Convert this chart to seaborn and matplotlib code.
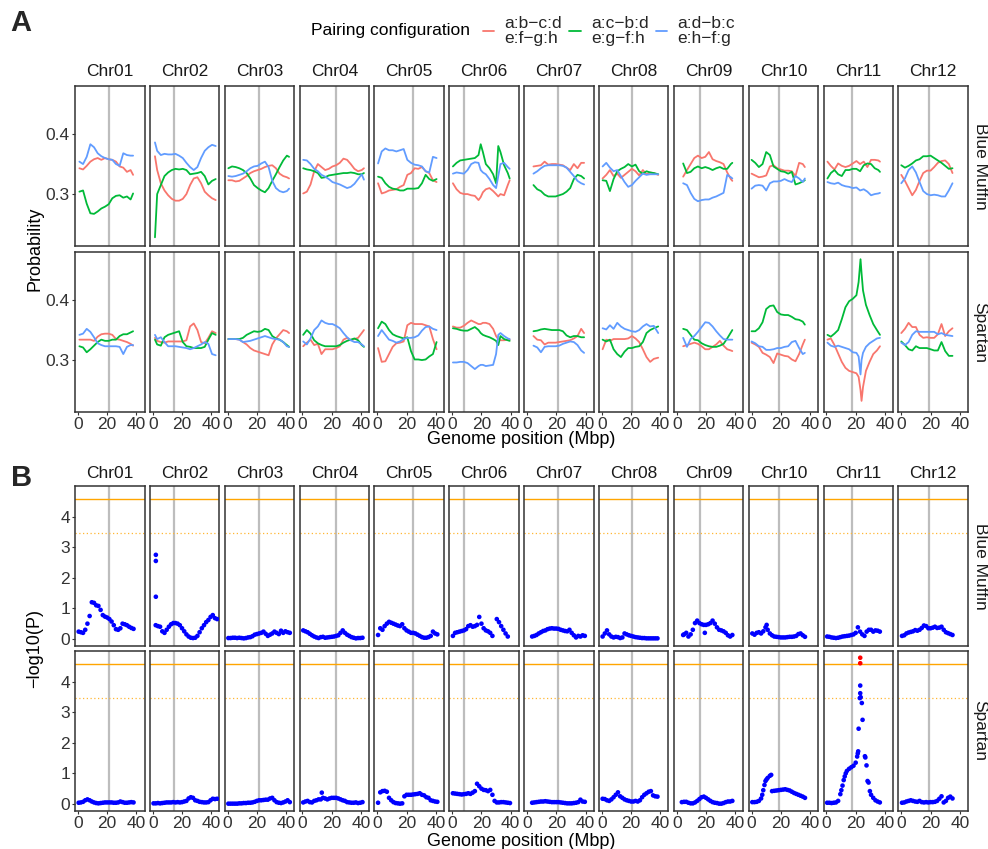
import matplotlib
matplotlib.use("Agg")
import matplotlib.pyplot as plt
from matplotlib.lines import Line2D
import numpy as np
import pandas as pd
import seaborn as sns

# ---------------------------------------------------------------- data ----
CHROMS = ["Chr01", "Chr02", "Chr03", "Chr04", "Chr05", "Chr06",
          "Chr07", "Chr08", "Chr09", "Chr10", "Chr11", "Chr12"]
POPULATIONS = ["Blue Muffin", "Spartan"]
CONFIG_KEYS = ["abcd", "acbd", "adbc"]
CONFIG_LABELS = ["a:b\u2212c:d\ne:f\u2212g:h", "a:c\u2212b:d\ne:g\u2212f:h", "a:d\u2212b:c\ne:h\u2212f:g"]
CONFIG_COLORS = ["#F8766D", "#00BA38", "#619CFF"]
CENTROMERE_MBP = [21.0, 14.2, 21.4, 22.6, 24.2, 8.3, 21.0, 20.3, 16.0, 19.0, 17.6, 19.0]
SIG_LINE = 4.57
SUGGESTIVE_LINE = 3.45

# window centres (Mbp) of the pairing-probability scans
pos01 = [1, 3.5, 6, 8.5, 11, 13.5, 16, 18.5, 21, 23.5, 26, 28.5, 31, 33.5, 36, 37.7]
pos02 = [1.5, 3, 5.5, 8, 10.5, 13, 15.5, 18, 20.5, 23, 25.5, 28, 30.5, 33, 35.5, 38, 40.5, 43]
pos03 = [0.5, 3, 5.5, 8, 10.5, 13, 15.5, 18, 20.5, 23, 25.5, 28, 30.5, 33, 35.5, 38, 40.5, 42]
pos04 = [0.5, 3, 5.5, 8, 10.5, 13, 15.5, 18, 20.5, 23, 25.5, 28, 30.5, 33, 35.5, 38, 40.5, 42]
pos05 = [0.5, 3, 5.5, 8, 10.5, 13, 15.5, 18, 20.5, 23, 25.5, 28, 30.5, 33, 35.5, 38, 40.5]
pos06 = [0.5, 3, 5.5, 8, 10.5, 13, 15.5, 18, 19.5, 21, 23, 25.5, 28, 30, 31.5, 33, 35.5, 38, 39.3]
pos07 = [4.4, 7, 9.5, 12, 14.5, 17, 19.5, 22, 24.5, 27, 29.5, 32, 34.5, 37, 39]
pos08 = [0.5, 3, 5.5, 8, 10.5, 13, 15.5, 18, 20.5, 23, 25.5, 28, 30.5, 33, 35.5, 38.5]
pos09 = [4.4, 7, 9.5, 12, 14.5, 17, 19.5, 22, 24.5, 27, 29.5, 32, 34.5, 37, 38]
pos10 = [0, 2.5, 5, 7.5, 10, 12.5, 15, 17.5, 20, 22.5, 25, 27.5, 30, 32.5, 35, 36.4]
pos11_bm = [0.7, 3, 5.5, 8, 10.5, 13, 15.5, 18, 20.5, 23, 25.5, 28, 30.5, 33, 35.5, 36.6]
pos11_sp = [0.7, 3, 5.5, 8, 10.5, 13, 15.5, 18, 20.5, 22, 23.3, 24, 25, 27, 29.5, 32, 34.5, 36.6]
pos12 = [0, 2.5, 5, 7.5, 10, 12.5, 15, 17.5, 20, 22.5, 25, 27.5, 30, 32.5, 35]

# pairing probabilities, Blue Muffin
bm01 = dict(pos=pos01,
            abcd=[.343, .341, .347, .354, .358, .36, .357, .36, .358, .357, .354, .346, .344, .337, .34, .332],
            acbd=[.304, .306, .284, .268, .267, .271, .276, .279, .283, .293, .297, .298, .294, .296, .291, .301],
            adbc=[.354, .35, .362, .383, .378, .368, .363, .36, .358, .357, .35, .347, .368, .365, .364, .364])
bm02 = dict(pos=pos02,
            abcd=[.363, .34, .318, .306, .298, .292, .289, .289, .292, .3, .315, .326, .328, .318, .304, .298, .293, .29],
            acbd=[.228, .3, .315, .33, .336, .34, .342, .341, .342, .34, .333, .334, .335, .337, .33, .316, .322, .325],
            adbc=[.386, .372, .365, .367, .366, .366, .367, .364, .36, .352, .345, .34, .345, .36, .372, .378, .382, .38])
bm03 = dict(pos=pos03,
            abcd=[.323, .323, .321, .322, .326, .33, .335, .338, .34, .342, .345, .347, .348, .343, .334, .33, .328, .326],
            acbd=[.343, .346, .345, .343, .34, .335, .326, .315, .31, .306, .303, .31, .322, .333, .345, .356, .364, .362],
            adbc=[.33, .329, .33, .332, .334, .338, .343, .346, .347, .351, .354, .345, .322, .31, .305, .303, .305, .309])
bm04 = dict(pos=pos04,
            abcd=[.301, .304, .316, .338, .35, .345, .34, .342, .346, .348, .352, .359, .357, .35, .342, .338, .34, .343],
            acbd=[.343, .341, .34, .338, .335, .327, .328, .331, .332, .333, .334, .335, .335, .336, .335, .333, .333, .335],
            adbc=[.357, .356, .35, .342, .338, .332, .329, .325, .32, .318, .316, .313, .31, .312, .317, .325, .333, .324])
bm05 = dict(pos=pos05,
            abcd=[.318, .301, .303, .306, .307, .308, .312, .315, .332, .335, .343, .342, .345, .338, .335, .323, .32],
            acbd=[.329, .327, .318, .312, .309, .308, .306, .306, .309, .309, .309, .31, .318, .332, .325, .322, .325],
            adbc=[.351, .371, .376, .373, .373, .371, .373, .375, .357, .352, .349, .348, .346, .338, .336, .362, .36])
bm06 = dict(pos=pos06,
            abcd=[.318, .308, .302, .3, .3, .298, .297, .29, .295, .303, .308, .31, .305, .3, .296, .3, .298, .315, .323],
            acbd=[.346, .352, .356, .357, .358, .359, .36, .365, .383, .37, .35, .343, .333, .318, .38, .37, .348, .335, .326],
            adbc=[.334, .336, .335, .334, .34, .35, .353, .352, .34, .336, .333, .325, .315, .31, .33, .35, .352, .345, .342])
bm07 = dict(pos=pos07,
            abcd=[.346, .347, .348, .354, .349, .35, .35, .349, .348, .344, .34, .35, .343, .352, .352],
            acbd=[.315, .308, .305, .299, .296, .296, .296, .298, .3, .304, .31, .325, .332, .33, .326],
            adbc=[.334, .338, .343, .347, .348, .348, .348, .348, .347, .344, .337, .33, .322, .318, .316])
bm08 = dict(pos=pos08,
            abcd=[.326, .332, .34, .33, .334, .327, .332, .337, .342, .338, .331, .34, .333, .336, .335, .332],
            acbd=[.323, .322, .305, .325, .338, .342, .345, .35, .346, .349, .338, .334, .338, .336, .335, .333],
            adbc=[.346, .352, .344, .338, .34, .33, .32, .312, .315, .322, .328, .334, .332, .333, .333, .333])
bm09 = dict(pos=pos09,
            abcd=[.329, .34, .35, .36, .364, .36, .362, .37, .358, .355, .353, .35, .336, .325, .322],
            acbd=[.351, .335, .337, .343, .346, .343, .345, .343, .34, .343, .345, .342, .342, .35, .352],
            adbc=[.318, .315, .302, .292, .288, .29, .291, .291, .294, .296, .299, .302, .332, .328, .326])
bm10 = dict(pos=pos10,
            abcd=[.334, .331, .328, .329, .331, .346, .348, .343, .341, .339, .339, .338, .33, .352, .35, .345],
            acbd=[.357, .352, .345, .35, .37, .365, .346, .342, .338, .337, .334, .337, .316, .318, .321, .323],
            adbc=[.309, .314, .315, .314, .306, .318, .321, .321, .322, .325, .322, .32, .33, .326, .32, .326])
bm11 = dict(pos=pos11_bm,
            abcd=[.354, .347, .341, .351, .347, .345, .347, .351, .355, .35, .354, .345, .357, .357, .356, .354],
            acbd=[.326, .335, .34, .333, .33, .34, .34, .342, .342, .338, .348, .351, .35, .343, .34, .337],
            adbc=[.32, .318, .317, .319, .315, .313, .312, .31, .311, .306, .308, .304, .298, .3, .301, .302])
bm12 = dict(pos=pos12,
            abcd=[.332, .322, .31, .298, .307, .322, .335, .339, .339, .345, .352, .355, .356, .35, .335],
            acbd=[.348, .344, .347, .351, .356, .358, .363, .363, .364, .36, .356, .352, .347, .342, .343],
            adbc=[.318, .326, .34, .346, .336, .32, .305, .3, .298, .299, .298, .296, .296, .306, .318])

# pairing probabilities, Spartan
sp01 = dict(pos=pos01,
            abcd=[.334, .334, .334, .334, .332, .339, .343, .344, .344, .342, .335, .334, .332, .33, .327, .324],
            acbd=[.323, .321, .313, .318, .324, .33, .334, .332, .332, .334, .334, .34, .343, .343, .346, .348],
            adbc=[.342, .344, .352, .347, .338, .328, .325, .323, .323, .323, .323, .322, .31, .322, .325, .325])
sp02 = dict(pos=pos02,
            abcd=[.337, .332, .33, .329, .331, .331, .331, .331, .331, .333, .356, .361, .35, .33, .328, .337, .348, .345],
            acbd=[.334, .326, .324, .338, .342, .344, .346, .348, .33, .323, .322, .32, .32, .32, .322, .334, .345, .342],
            adbc=[.342, .335, .338, .33, .323, .323, .323, .322, .321, .32, .318, .32, .323, .326, .33, .327, .31, .308])
sp03 = dict(pos=pos03,
            abcd=[.335, .335, .335, .334, .33, .326, .32, .316, .314, .312, .31, .308, .326, .336, .343, .35, .348, .345],
            acbd=[.335, .335, .335, .335, .337, .342, .345, .348, .347, .348, .352, .35, .34, .336, .334, .33, .325, .322],
            adbc=[.335, .335, .335, .334, .33, .331, .332, .334, .336, .338, .34, .338, .336, .335, .334, .33, .323, .322])
sp04 = dict(pos=pos04,
            abcd=[.323, .329, .334, .325, .327, .31, .318, .318, .318, .32, .323, .334, .337, .333, .335, .337, .345, .35],
            acbd=[.342, .35, .344, .333, .328, .325, .323, .323, .323, .323, .325, .329, .332, .334, .336, .333, .325, .322],
            adbc=[.331, .326, .336, .35, .356, .366, .362, .36, .36, .357, .353, .345, .338, .333, .33, .33, .326, .323])
sp05 = dict(pos=pos05,
            abcd=[.32, .297, .298, .31, .322, .328, .329, .331, .358, .362, .36, .36, .36, .358, .356, .335, .318],
            acbd=[.353, .364, .36, .35, .343, .34, .338, .336, .338, .315, .301, .301, .3, .301, .306, .31, .33],
            adbc=[.34, .35, .342, .334, .332, .329, .331, .335, .337, .337, .338, .341, .349, .355, .356, .352, .35])
sp06 = dict(pos=pos06,
            abcd=[.356, .354, .354, .357, .362, .366, .363, .36, .36, .362, .362, .36, .352, .34, .335, .333, .333, .334, .334],
            acbd=[.353, .352, .35, .349, .349, .352, .355, .35, .345, .342, .34, .338, .335, .332, .325, .34, .335, .333, .332],
            adbc=[.296, .296, .297, .297, .295, .29, .285, .29, .292, .292, .29, .291, .292, .31, .342, .345, .34, .336, .335])
sp07 = dict(pos=pos07,
            abcd=[.34, .334, .333, .326, .329, .329, .329, .33, .331, .332, .333, .336, .34, .352, .345],
            acbd=[.348, .349, .351, .352, .351, .35, .35, .35, .348, .341, .338, .34, .34, .338, .338],
            adbc=[.324, .321, .313, .322, .323, .323, .323, .324, .327, .329, .331, .33, .325, .316, .312])
sp08 = dict(pos=pos08,
            abcd=[.318, .334, .332, .335, .335, .335, .335, .336, .34, .336, .33, .318, .305, .297, .302, .304],
            acbd=[.334, .331, .334, .318, .31, .305, .314, .32, .32, .322, .323, .33, .345, .35, .353, .356],
            adbc=[.353, .351, .358, .352, .362, .356, .352, .35, .348, .347, .35, .356, .36, .356, .357, .345])
sp09 = dict(pos=pos09,
            abcd=[.323, .325, .327, .329, .327, .323, .318, .318, .322, .326, .332, .324, .318, .316, .315],
            acbd=[.352, .35, .342, .334, .333, .328, .325, .323, .322, .322, .324, .327, .336, .346, .35],
            adbc=[.337, .322, .335, .34, .347, .355, .363, .362, .356, .348, .341, .335, .334, .334, .334])
sp10 = dict(pos=pos10,
            abcd=[.329, .326, .322, .312, .309, .305, .295, .311, .309, .307, .306, .301, .298, .31, .326, .334],
            acbd=[.348, .348, .353, .363, .385, .39, .391, .38, .376, .375, .375, .372, .368, .367, .364, .359],
            adbc=[.331, .328, .323, .322, .317, .317, .318, .32, .32, .322, .323, .33, .332, .32, .31, .312])
sp11 = dict(pos=pos11_sp,
            abcd=[.334, .336, .325, .311, .297, .287, .282, .28, .278, .272, .25, .232, .255, .282, .297, .31, .316, .323],
            acbd=[.342, .339, .344, .35, .368, .388, .398, .402, .408, .43, .468, .445, .416, .392, .375, .36, .35, .342],
            adbc=[.329, .324, .322, .324, .322, .32, .318, .313, .312, .306, .276, .3, .312, .322, .328, .332, .336, .337])
sp12 = dict(pos=pos12,
            abcd=[.345, .352, .362, .355, .355, .342, .337, .338, .337, .337, .343, .36, .34, .348, .353],
            acbd=[.331, .325, .318, .316, .323, .32, .32, .32, .318, .316, .316, .33, .315, .307, .307],
            adbc=[.329, .325, .33, .342, .348, .347, .347, .347, .347, .347, .343, .345, .342, .341, .34])

# association scan windows (Mbp) and -log10(P) per window
WINDOWS_MBP = [0.5, 2, 3.5, 5, 6.5, 8, 9.5, 11, 12.5, 14, 15.5, 17, 18.5, 20, 21.5,
               23, 24.5, 26, 27.5, 29, 30.5, 32, 33.5, 35, 36.5, 38, 39.5, 41, 42.5, 44]

bm01_p = [.24, .22, .2, .3, .5, .75, 1.2, 1.18, 1.1, 1.08, .95, .78, .73, .7, .65, .57, .45, .32, .3, .35, .5, .48, .45, .4, .36, .33]
bm02_p = [None, .45, .42, .4, .25, .2, .3, .4, .48, .52, .52, .5, .45, .35, .25, .15, .08, .04, .03, .04, .1, .22, .35, .45, .55, .62, .72, .78, .68, .65]
bm03_p = [.03, .03, .04, .04, .03, .04, .03, .02, .03, .05, .06, .09, .14, .16, .18, .2, .24, .17, .1, .14, .18, .24, .2, .16, .27, .2, .25, .22, .2]
bm04_p = [.28, .25, .22, .17, .12, .08, .05, .03, .06, .07, .04, .05, .06, .07, .08, .1, .12, .2, .28, .2, .14, .1, .06, .04, .02, .03, .03, .04]
bm05_p = [.13, .35, .3, .42, .5, .56, .53, .5, .47, .44, .42, .48, .35, .28, .24, .2, .2, .18, .14, .1, .06, .04, .04, .06, .1, .24, .18, .15]
bm06_p = [.1, .2, .22, .24, .26, .28, .32, .42, .45, .4, .42, .46, .72, .5, .35, .28, .25, .2, .1, None, .65, .55, .42, .3, .18, .08]
bm07_p = [None, None, .08, .1, .13, .18, .22, .26, .28, .32, .34, .35, .34, .34, .33, .3, .28, .26, .25, .3, .2, .12, .05, .1, .08, .12, .1]
bm08_p = [.08, .18, .28, .15, .08, .05, .07, .06, .03, .05, .18, .15, .12, .1, .08, .06, .05, .04, .03, .03, .02, .02, .02, .02, .02, .02]
bm09_p = [None, None, None, .15, .2, .08, .15, .3, .52, .6, .52, .48, .46, .46, .48, .52, .6, .5, .38, .3, .28, .25, .2, .12, .08, .13]
bm10_p = [.18, .14, .2, .22, .18, .25, .38, .3, .18, .12, .08, .07, .06, .05, .05, .05, .06, .07, .07, .08, .1, .16, .18, .12, .07]
bm11_p = [.08, .07, .05, .04, .03, .04, .06, .08, .09, .1, .11, .13, .15, .2, .38, .24, .15, .1, .24, .3, .3, .24, .28, .27, .24]
bm12_p = [.1, .12, .18, .21, .23, .25, .29, .27, .3, .36, .44, .42, .35, .35, .37, .4, .36, .37, .4, .3, .22, .19, .16, .13]

sp01_p = [.04, .05, .07, .12, .15, .12, .08, .05, .03, .02, .03, .04, .05, .05, .05, .05, .04, .04, .05, .08, .06, .04, .04, .05, .06, .05]
sp02_p = [.02, .02, .03, .02, .03, .04, .05, .05, .05, .06, .05, .06, .05, .06, .08, .1, .18, .22, .2, .12, .1, .07, .06, .05, .05, .06, .12, .17, .16, .17]
sp03_p = [.01, .01, .01, .01, .01, .02, .02, .03, .03, .04, .04, .05, .07, .1, .12, .12, .13, .14, .14, .18, .2, .12, .06, .04, .03, .05, .08, .12, .06]
sp04_p = [.05, .08, .1, .06, .05, .1, .12, .15, .15, .2, .18, .15, .18, .2, .2, .2, .18, .15, .12, .1, .06, .05, .04, .04, .05, .03, .04, .06]
sp05_p = [.04, .38, .42, .43, .4, .2, .12, .06, .03, .02, .01, .02, .25, .3, .3, .3, .31, .32, .33, .35, .3, .28, .22, .2, .12, .1, .08, .07]
sp06_p = [.35, .34, .33, .32, .31, .32, .33, .35, .33, .37, .42, .66, .58, .5, .46, .45, .42, .46, .3, .1, .05, .05, .06, .06, .05, .04, .03]
sp07_p = [None, None, .04, .05, .06, .07, .08, .08, .09, .08, .07, .06, .06, .06, .06, .05, .04, .03, .02, .02, .02, .03, .04, .06, .14, .08, .07]
sp08_p = [.17, .16, .12, .1, .15, .22, .3, .38, .25, .2, .15, .12, .1, .08, .08, .1, .08, .12, .22, .3, .35, .4, .42, .28, .25, .24]
sp09_p = [None, None, .06, .07, .07, .04, .02, .02, .05, .1, .16, .22, .24, .2, .15, .1, .06, .04, .03, .01, .01, .03, .06, .08, .08, .1]
sp10_p = [.06, .06, .07, .1, .18, .45, .75, .85, .92, .42, .43, .44, .45, .46, .47, .48, .46, .44, .4, .36, .33, .3, .27, .24, .2]
sp11_p = [.04, .04, .03, .04, .05, .1, .32, .6, .9, 1.08, 1.15, 1.2, 1.25, 1.35, None, None, None, None, None, None, .3, .2, .12, .08, .05]
sp12_p = [.04, .05, .08, .1, .12, .1, .08, .07, .1, .06, .05, .06, .05, .06, .06, .07, .1, .17, .25, .05, .1, .2, .24, .18]

# isolated markers between the regular windows: (positions, -log10(P))
bm02_extra = ([2.1, 2.1, 2.1], [2.75, 2.55, 1.38])
bm09_extra = ([4.4, 19.2], [.13, .2])
bm10_extra = ([10.3], [.46])
sp04_extra = ([13.2], [.37])
sp10_extra = ([7.3, 8.8, 10.2, 13.4], [.3, .62, .8, .95])
sp11_extra = ([10.2, 11.8, 13.2, 21.0, 21.4, 21.7, 22.0, 22.8, 23.1, 23.1, 23.4, 24.2, 24.7,
               26.3, 26.6, 27.4, 28.1, 28.8, 29.7, 23.1, 23.1],
              [.45, .78, 1.0, 1.55, 1.65, 1.72, 2.46, 3.46, 3.62, 3.87, 3.49, 3.3, 2.75,
               1.56, 1.52, 1.26, .75, .7, .42, 4.78, 4.6])

PAIRING = {"Blue Muffin": [bm01, bm02, bm03, bm04, bm05, bm06, bm07, bm08, bm09, bm10, bm11, bm12],
           "Spartan": [sp01, sp02, sp03, sp04, sp05, sp06, sp07, sp08, sp09, sp10, sp11, sp12]}
ASSOC = {"Blue Muffin": [bm01_p, bm02_p, bm03_p, bm04_p, bm05_p, bm06_p, bm07_p, bm08_p, bm09_p, bm10_p, bm11_p, bm12_p],
         "Spartan": [sp01_p, sp02_p, sp03_p, sp04_p, sp05_p, sp06_p, sp07_p, sp08_p, sp09_p, sp10_p, sp11_p, sp12_p]}
EXTRA = {("Blue Muffin", 1): bm02_extra, ("Blue Muffin", 8): bm09_extra,
         ("Blue Muffin", 9): bm10_extra, ("Spartan", 3): sp04_extra,
         ("Spartan", 9): sp10_extra, ("Spartan", 10): sp11_extra}

# --------------------------------------------------------------- style ----
sns.set_style("white")
plt.rcParams["font.family"] = ["Liberation Sans", "DejaVu Sans"]

W, H = 988, 849
fig = plt.figure(figsize=(W / 100, H / 100), dpi=100)

COL_X0, COL_STEP, COL_W = 75, 74.85, 69.5
A_ROWS = [(86, 246), (252, 412)]
B_ROWS = [(486, 646), (651, 811)]
FRAME = "#333333"
TXT = "#1a1a1a"


def make_axes(top, bottom, col):
    left = COL_X0 + COL_STEP * col
    return fig.add_axes([left / W, 1 - bottom / H, COL_W / W, (bottom - top) / H])


def style_axes(ax, col, bottom_row, ylim, yticks, ylabels):
    ax.set_xlim(-2, 45.5)
    ax.set_ylim(*ylim)
    ax.set_xticks([0, 20, 40])
    ax.set_xticklabels(["0", "20", "40"])
    ax.set_yticks(yticks)
    ax.set_yticklabels(ylabels)
    ax.set_xlabel("")
    ax.set_ylabel("")
    for sp in ax.spines.values():
        sp.set_color(FRAME)
        sp.set_linewidth(1.1)
    ax.tick_params(length=2.4, width=0.8, color=FRAME, pad=1.2,
                   labelsize=12.5, labelcolor="#333333")
    ax.tick_params(axis="y", left=(col == 0), labelleft=(col == 0))
    ax.tick_params(axis="x", bottom=bottom_row, labelbottom=bottom_row)


def strip_labels(y_top, rows):
    for c, name in enumerate(CHROMS):
        cx = COL_X0 + COL_STEP * c + COL_W / 2
        fig.text(cx / W, 1 - y_top / H, name, ha="center", va="center", fontsize=12.5, color=TXT)
    for (top, bottom), pop in zip(rows, POPULATIONS):
        fig.text(980 / W, 1 - (top + bottom) / 2 / H, pop, rotation=270,
                 ha="center", va="center", fontsize=12.5, color=TXT)


# ------------------------------------------------- panel A: probabilities ----
for r, pop in enumerate(POPULATIONS):
    top, bottom = A_ROWS[r]
    for c in range(12):
        ax = make_axes(top, bottom, c)
        panel = PAIRING[pop][c]
        frames = [pd.DataFrame({"pos": panel["pos"], "prob": panel[k], "config": lab})
                  for k, lab in zip(CONFIG_KEYS, CONFIG_LABELS)]
        df = pd.concat(frames, ignore_index=True)
        ax.axvline(CENTROMERE_MBP[c], color="#bdbdbd", lw=1.6, zorder=0)
        sns.lineplot(data=df, x="pos", y="prob", hue="config", hue_order=CONFIG_LABELS,
                     palette=CONFIG_COLORS, legend=False, ax=ax, linewidth=1.3,
                     estimator=None)
        style_axes(ax, c, r == 1, (0.2135, 0.48), [0.3, 0.4], ["0.3", "0.4"])

strip_labels(72, A_ROWS)

# --------------------------------------------------- panel B: association ----
for r, pop in enumerate(POPULATIONS):
    top, bottom = B_ROWS[r]
    for c in range(12):
        ax = make_axes(top, bottom, c)
        vals = ASSOC[pop][c]
        df = pd.DataFrame({"pos": WINDOWS_MBP[:len(vals)],
                           "logp": np.array(vals, dtype=float)})
        if (pop, c) in EXTRA:
            xp, yp = EXTRA[(pop, c)]
            df = pd.concat([df, pd.DataFrame({"pos": xp, "logp": yp})], ignore_index=True)
        df = df.dropna()
        df["sig"] = df["logp"] > SIG_LINE
        ax.axvline(CENTROMERE_MBP[c], color="#bdbdbd", lw=1.6, zorder=0)
        ax.axhline(SIG_LINE, color="#FFA500", lw=1.0, zorder=1)
        ax.axhline(SUGGESTIVE_LINE, color="#FFB733", lw=0.9, ls=(0, (1, 2)), zorder=1)
        sns.scatterplot(data=df, x="pos", y="logp", hue="sig",
                        palette={False: "#0000FF", True: "#FF0000"},
                        legend=False, ax=ax, s=11, linewidth=0, zorder=3)
        style_axes(ax, c, r == 1, (-0.23, 5.0), [0, 1, 2, 3, 4], ["0", "1", "2", "3", "4"])

strip_labels(474, B_ROWS)

# ------------------------------------------------------------- titles ----
fig.text(35 / W, 1 - 249 / H, "Probability", rotation=90, ha="center", va="center",
         fontsize=13, color="black")
fig.text(521.5 / W, 1 - 439 / H, "Genome position (Mbp)", ha="center", va="center",
         fontsize=13, color="black")
fig.text(35 / W, 1 - 648 / H, "\u2212log10(P)", rotation=90, ha="center", va="center",
         fontsize=13, color="black")
fig.text(521.5 / W, 1 - 841 / H, "Genome position (Mbp)", ha="center", va="center",
         fontsize=13, color="black")

fig.text(21 / W, 1 - 23 / H, "A", ha="center", va="center", fontsize=21, fontweight="bold")
fig.text(22 / W, 1 - 478 / H, "B", ha="center", va="center", fontsize=21, fontweight="bold")

# legend
fig.text(470 / W, 1 - 31 / H, "Pairing configuration", ha="right", va="center",
         fontsize=12.5, color="black")
handles = [Line2D([0], [0], color=col, lw=1.3) for col in CONFIG_COLORS]
leg = fig.legend(handles, CONFIG_LABELS, loc="center left",
                 bbox_to_anchor=(483 / W, 1 - 31 / H), ncol=3, frameon=False,
                 fontsize=12.5, handlelength=0.65, handletextpad=0.6,
                 columnspacing=0.4, borderpad=0, borderaxespad=0)
for t in leg.get_texts():
    t.set_linespacing(1.05)

fig.savefig("out.png", dpi=100)
